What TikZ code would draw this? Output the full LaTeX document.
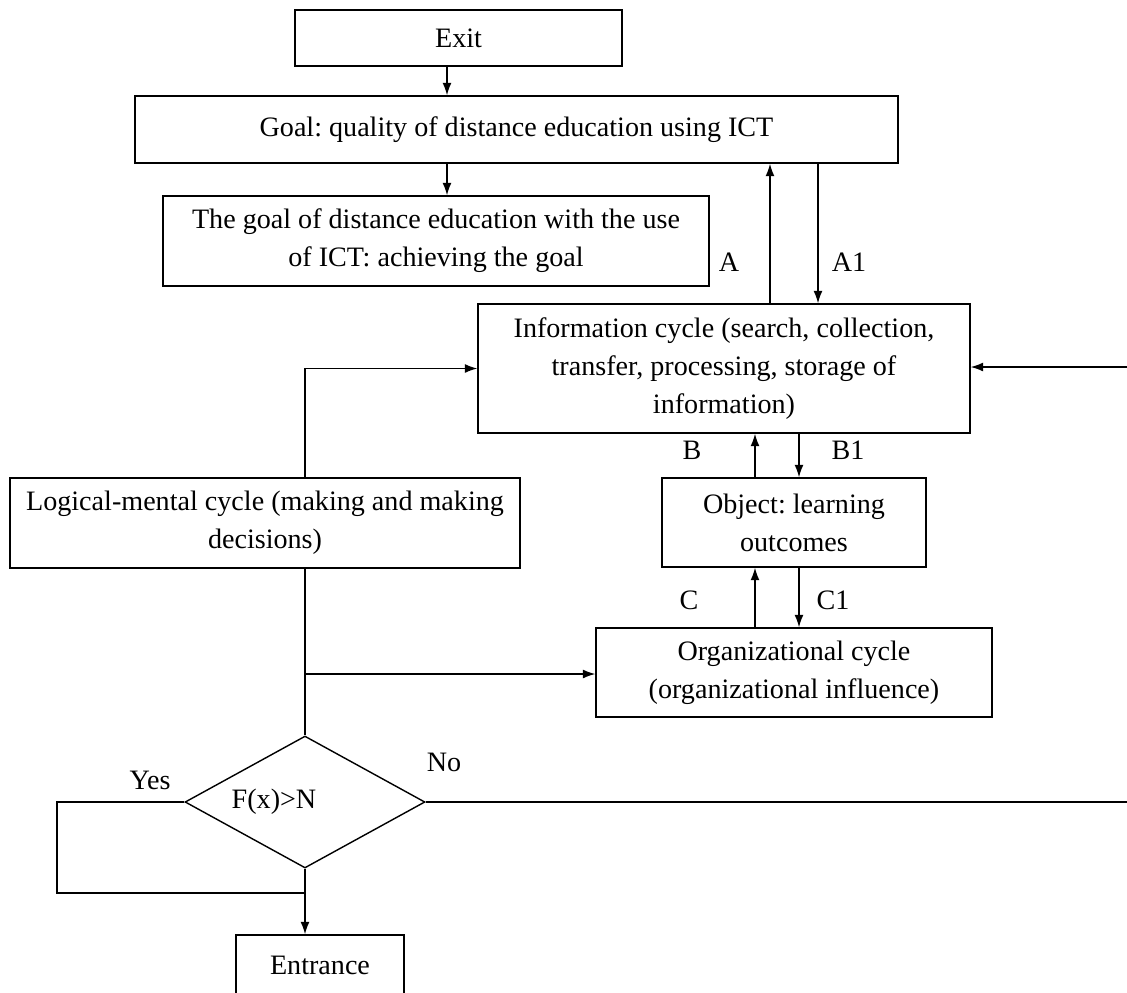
\documentclass[tikz,border=0pt]{standalone}
\usepackage{fontspec}
\setmainfont{Liberation Serif}
\usetikzlibrary{arrows.meta,calc,positioning}
\usetikzlibrary{shapes.geometric}
\frenchspacing

\begin{document}
\begin{tikzpicture}[x=0.02cm, y=-0.02cm,
  box/.style={rectangle, draw, line width=0.8pt, align=center, inner sep=2pt,
    font=\fontsize{16}{21.5}\selectfont},
  lbl/.style={font=\fontsize{16}{21.5}\selectfont, inner sep=0pt},
  >={Latex[length=2.5mm,width=1.8mm]}, line width=0.8pt]
\clip (0,0) rectangle (1127,992);
\node[box, minimum width=6.54cm, minimum height=1.12cm] (exit) at (458.5,38) {Exit};
\node[box, minimum width=15.26cm, minimum height=1.34cm] (goal) at (516.5,129.5) {Goal: quality of distance education using ICT};
\node[box, minimum width=10.92cm, minimum height=1.8cm] (aim) at (436,241) {The goal of distance education with the use\\ of ICT: achieving the goal};
\node[box, minimum width=9.84cm, minimum height=2.58cm] (info) at (724,368.5) {Information cycle (search, collection,\\ transfer, processing, storage of\\ information)};
\node[box, minimum width=10.2cm, minimum height=1.8cm] (logic) at (265,523) {Logical-mental cycle (making and making\\ decisions)};
\node[box, minimum width=5.28cm, minimum height=1.78cm] (obj) at (794,522.5) {Object: learning\\ outcomes};
\node[box, minimum width=7.92cm, minimum height=1.78cm] (org) at (794,672.5) {Organizational cycle\\ (organizational influence)};
\node[box, diamond, minimum width=4.8cm, minimum height=2.64cm, inner sep=0pt] (dec) at (305,802) {\makebox[0pt]{F(x)>N\hspace{1.24cm}}};
\node[box, minimum width=3.36cm, minimum height=1.2cm] (entr) at (320,965) {Entrance};

\node[lbl] (a) at (729,262) {A};
\node[lbl] (a1) at (849,262) {A1};
\node[lbl] (b) at (692,450) {B};
\node[lbl] (b1) at (848,450) {B1};
\node[lbl] (c) at (689,600) {C};
\node[lbl] (c1) at (833,600) {C1};
\node[lbl] (yes) at (150,780) {Yes};
\node[lbl] (no) at (444,762) {No};

\coordinate (rin) at (1127,367);
\coordinate (br) at (305,674);
\coordinate (yj) at (305,893);
\coordinate (nr) at (1127,802);

\draw[->] (exit.south -| 447,0) -- (goal.north -| 447,0);
\draw[->] (goal.south -| 447,0) -- (aim.north -| 447,0);
\draw[->] (info.north -| 770,0) -- (goal.south -| 770,0);
\draw[->] (goal.south -| 818,0) -- (info.north -| 818,0);
\draw[->] (rin) -- (info.east |- rin);
\draw[->] (logic.north -| dec.north) |- (info.west);
\draw[->] (obj.north -| 755,0) -- (info.south -| 755,0);
\draw[->] (info.south -| 799,0) -- (obj.north -| 799,0);
\draw[->] (org.north -| 755,0) -- (obj.south -| 755,0);
\draw[->] (obj.south -| 799,0) -- (org.north -| 799,0);
\draw (logic.south -| dec.north) -- (dec.north);
\draw[->] (br) -- (org.west |- br);
\draw (dec.west) -- (dec.west -| 57,0) |- (yj);
\draw[->] (dec.south) -- (entr.north -| dec.south);
\draw (dec.east) -- (nr);
\end{tikzpicture}
\end{document}
